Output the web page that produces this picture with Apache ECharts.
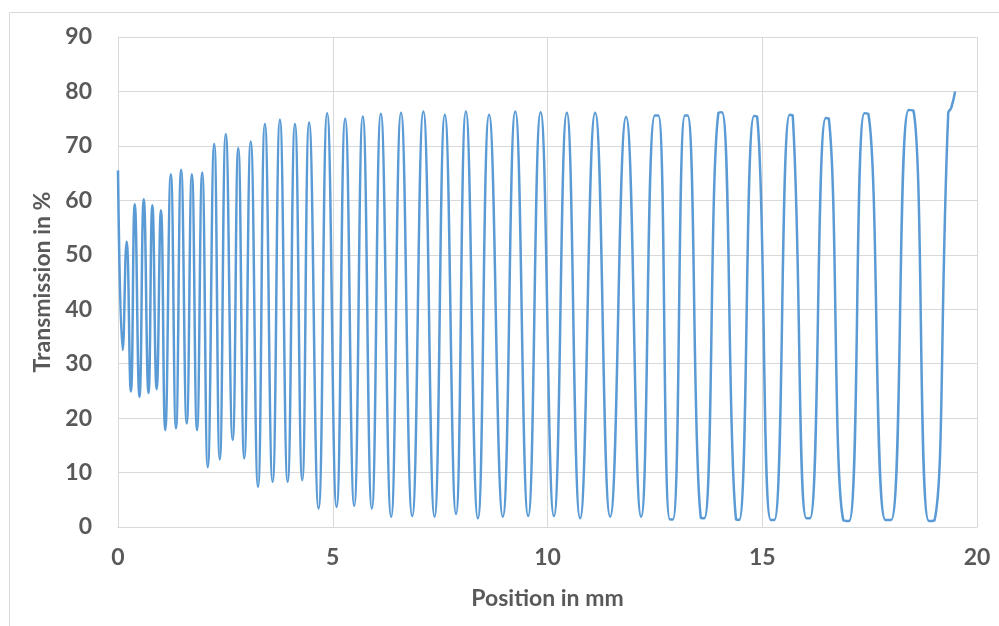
<!DOCTYPE html>
<html>
<head>
<meta charset="utf-8">
<script src="https://cdn.jsdelivr.net/npm/echarts@6/dist/echarts.min.js"></script>
<style>
  html, body { margin: 0; padding: 0; background: #ffffff; }
  #chart { width: 999px; height: 626px; }
</style>
</head>
<body>
<div id="chart"></div>
<script>
// Measured transmission along the sample (position in mm, transmission in %)
const positionMm = [
  0.00, 0.11, 0.20, 0.30, 0.39, 0.50, 0.60, 0.71, 0.80, 0.90,
  1.00, 1.10, 1.23, 1.35, 1.47, 1.60, 1.72, 1.84, 1.96, 2.09,
  2.24, 2.37, 2.51, 2.67, 2.80, 2.94, 3.09, 3.26, 3.42, 3.60,
  3.77, 3.95, 4.12, 4.29, 4.45, 4.67, 4.87, 5.09, 5.29, 5.50,
  5.70, 5.91, 6.12, 6.36, 6.59, 6.85, 7.11, 7.37, 7.61, 7.87,
  8.10, 8.38, 8.64, 8.96, 9.25, 9.55, 9.84, 10.15, 10.45, 10.76,
  11.11, 11.46, 11.83, 12.18,
  12.50, 12.58, 12.85, 12.92, 13.20, 13.26, 13.57, 13.65, 13.98, 14.06,
  14.39, 14.46, 14.81, 14.88, 15.20, 15.28, 15.64, 15.71, 16.03, 16.11,
  16.48, 16.55, 16.89, 17.02, 17.38, 17.47, 17.87, 18.00, 18.41, 18.52,
  18.88, 19.01, 19.33, 19.40, 19.49
];
const transmissionPct = [
  65.5, 32.5, 52.4, 24.9, 59.3, 23.9, 60.2, 24.6, 59.1, 25.3,
  58.2, 17.8, 64.8, 18.1, 65.6, 19.0, 64.8, 17.8, 65.1, 11.0,
  70.4, 12.4, 72.2, 16.0, 69.6, 12.6, 70.8, 7.4, 74.0, 8.3,
  74.8, 8.3, 74.0, 8.6, 74.3, 3.4, 76.0, 3.7, 75.0, 3.9,
  75.4, 3.4, 75.9, 1.9, 76.1, 2.0, 76.3, 1.9, 75.7, 2.4,
  76.3, 1.6, 75.7, 1.9, 76.3, 2.0, 76.2, 2.0, 76.1, 1.6,
  76.1, 1.9, 75.3, 1.9,
  75.6, 75.6, 1.4, 1.4, 75.6, 75.6, 1.7, 1.6, 76.1, 76.2,
  1.4, 1.3, 75.5, 75.4, 1.3, 1.3, 75.7, 75.5, 1.6, 1.6,
  75.1, 75.0, 1.2, 1.1, 76.0, 75.9, 1.3, 1.3, 76.6, 76.5,
  1.1, 1.2, 76.0, 77.0, 80.0
];

const xTicks = { min: 0, max: 20, interval: 5 };
const yTicks = { min: 0, max: 90, interval: 10 };

const xAxisTitle = 'Position in mm';
const yAxisTitle = 'Transmission in %';

const points = positionMm.map((p, i) => [p, transmissionPct[i]]);

const textColor = '#595959';
const gridColor = '#d9d9d9';
const labelFont = { color: textColor, fontFamily: 'Lato', fontWeight: 'bold', fontSize: 23 };

const chart = echarts.init(document.getElementById('chart'), null, { renderer: 'canvas' });
chart.setOption({
  animation: false,
  backgroundColor: '#ffffff',
  graphic: [{
    type: 'rect',
    shape: { x: 9.5, y: 12.5, width: 1000, height: 700 },
    style: { fill: null, stroke: '#d9d9d9', lineWidth: 1 },
    silent: true
  }],
  grid: { left: 118, right: 22, top: 37, bottom: 99, containLabel: false },
  xAxis: {
    type: 'value',
    min: xTicks.min, max: xTicks.max, interval: xTicks.interval,
    name: xAxisTitle,
    nameLocation: 'middle',
    nameGap: 60,
    nameTextStyle: labelFont,
    axisLine: { show: true, lineStyle: { color: gridColor, width: 1 } },
    axisTick: { show: false },
    axisLabel: Object.assign({ margin: 19 }, labelFont),
    splitLine: { show: true, lineStyle: { color: gridColor, width: 1 } }
  },
  yAxis: {
    type: 'value',
    min: yTicks.min, max: yTicks.max, interval: yTicks.interval,
    name: yAxisTitle,
    nameLocation: 'middle',
    nameRotate: 90,
    nameGap: 56,
    nameTextStyle: labelFont,
    axisLine: { show: true, lineStyle: { color: gridColor, width: 1 } },
    axisTick: { show: false },
    axisLabel: Object.assign({ margin: 26 }, labelFont),
    splitLine: { show: true, lineStyle: { color: gridColor, width: 1 } }
  },
  series: [{
    type: 'line',
    data: points,
    showSymbol: false,
    smooth: 0.5,
    lineStyle: { color: '#5b9bd5', width: 2.5 },
    clip: false
  }]
});
</script>
</body>
</html>
